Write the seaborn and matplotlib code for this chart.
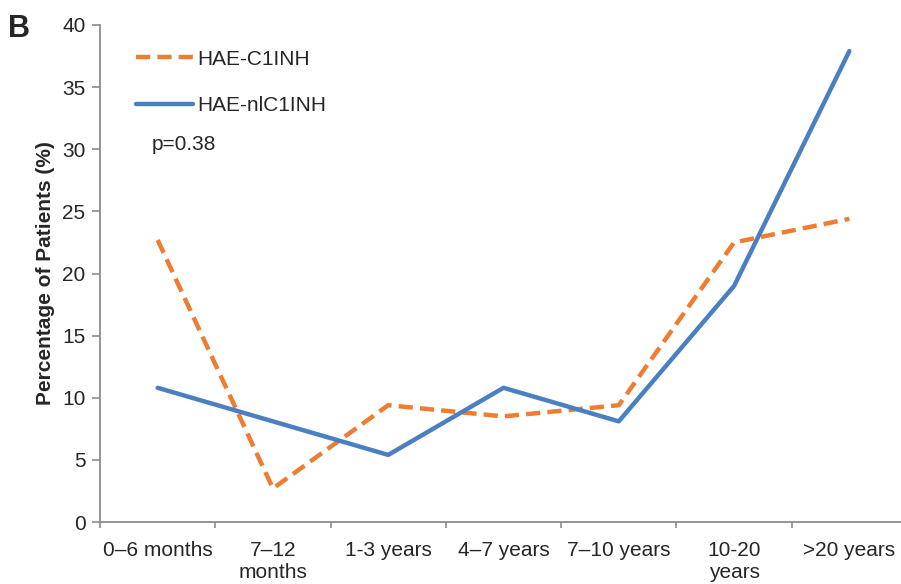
import matplotlib
matplotlib.use("Agg")
import matplotlib.pyplot as plt
from matplotlib.lines import Line2D
import seaborn as sns
import pandas as pd

# Duration categories and percentage of patients per group
categories = ["0–6 months", "7–12 months", "1-3 years", "4–7 years",
              "7–10 years", "10-20 years", ">20 years"]
tick_labels = ["0–6 months", "7–12\nmonths", "1-3 years", "4–7 years",
               "7–10 years", "10-20\nyears", ">20 years"]
hae_c1inh = [22.7, 2.7, 9.4, 8.5, 9.4, 22.5, 24.4]
hae_nlc1inh = [10.8, 8.1, 5.4, 10.8, 8.1, 19.0, 37.9]
series_names = ["HAE-C1INH", "HAE-nlC1INH"]

sns.set_theme(style="white")
plt.rcParams["font.family"] = ["Liberation Sans", "DejaVu Sans"]

df = pd.DataFrame({
    "pos": list(range(len(categories))) * 2,
    "value": hae_c1inh + hae_nlc1inh,
    "group": [series_names[0]] * len(categories) + [series_names[1]] * len(categories),
})

orange = "#EE7D31"
blue = "#4A80C2"
fs = 15

fig = plt.figure(figsize=(9.01, 5.84), dpi=100)
ax = fig.add_axes([100 / 901, 62 / 584, 807 / 901, 497 / 584])

sns.lineplot(data=df[df.group == series_names[0]], x="pos", y="value",
             color=orange, lw=3.2, ax=ax, legend=False)
sns.lineplot(data=df[df.group == series_names[1]], x="pos", y="value",
             color=blue, lw=3.2, ax=ax, legend=False)
ax.lines[0].set_dashes((3.2, 1.6))

ax.set_xlim(-0.5, len(categories) - 0.5)
ax.set_ylim(0, 40)
ax.set_yticks(range(0, 41, 5))
ax.set_yticklabels([str(v) for v in range(0, 41, 5)], fontsize=fs)

# Tick marks between categories, labels centred under each category
ax.set_xticks([i - 0.5 for i in range(len(categories) + 1)])
ax.set_xticklabels([])
ax.set_xticks(range(len(categories)), minor=True)
ax.set_xticklabels(tick_labels, minor=True, fontsize=fs, linespacing=1.15)
ax.tick_params(axis="x", which="major", direction="out", length=4.5, width=1.2,
               color="#8c8c8c", bottom=True)
ax.tick_params(axis="x", which="minor", length=0, pad=14)
ax.tick_params(axis="y", direction="out", length=5.5, width=1.2, color="#8c8c8c",
               left=True, pad=5)

for side in ["top", "right"]:
    ax.spines[side].set_visible(False)
for side in ["left", "bottom"]:
    ax.spines[side].set_color("#8c8c8c")
    ax.spines[side].set_linewidth(1.3)

ax.set_xlabel("")
ax.set_ylabel("Percentage of Patients (%)", fontsize=fs, fontweight="bold",
              labelpad=5)

handles = [
    Line2D([], [], color=orange, lw=3.2, dashes=(3.2, 1.6)),
    Line2D([], [], color=blue, lw=3.2),
]
leg = ax.legend(handles, series_names, loc="upper left",
                bbox_to_anchor=(0.021, 0.988), frameon=False, fontsize=fs,
                handlelength=2.75, handletextpad=0.2, labelspacing=1.3)

ax.text(152 / 901, 1 - 145 / 584, "p=0.38", transform=fig.transFigure,
        fontsize=fs, va="center", ha="left")
fig.text(8 / 901, 1 - 29 / 584, "B", fontsize=22, fontweight="bold",
         va="center", ha="left")

fig.savefig("out.png", dpi=100)
